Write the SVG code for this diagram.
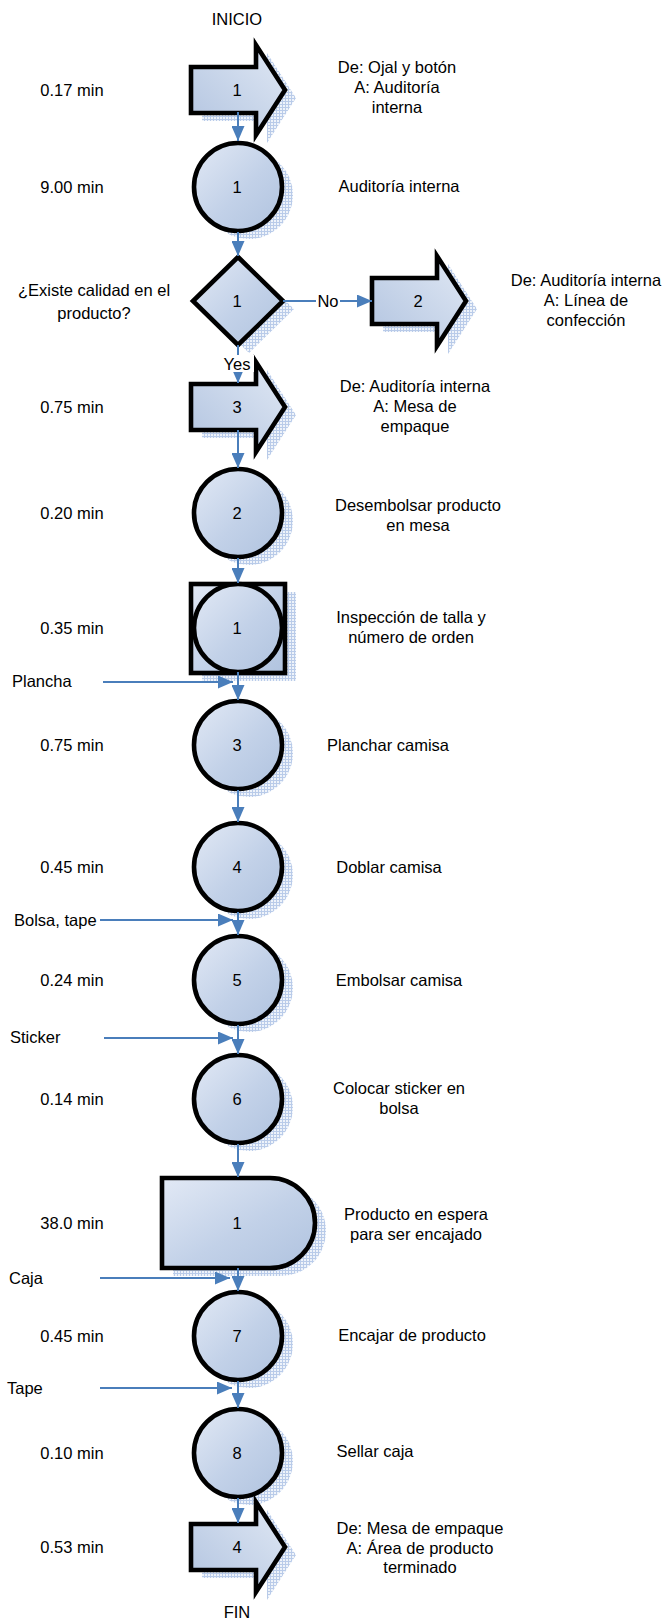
<svg xmlns="http://www.w3.org/2000/svg" xmlns:xlink="http://www.w3.org/1999/xlink" width="667" height="1618" viewBox="0 0 667 1618">
<style>
text{font-family:"Liberation Sans",Arial,sans-serif;font-size:16.5px;fill:#000}
.m{text-anchor:middle}
.s{stroke:#000;stroke-width:4.6;stroke-linejoin:miter}
.op{fill:url(#gc)}
.ar{fill:url(#ga)}
.sh{fill:url(#hatch)}
.c{stroke:#4a7ebb;stroke-width:2;fill:none;marker-end:url(#ah)}
</style>
<defs>
<linearGradient id="gc" x1="0" y1="0" x2="1" y2="1">
<stop offset="0" stop-color="#e2e9f5"/>
<stop offset="0.55" stop-color="#c2d1e8"/>
<stop offset="1" stop-color="#b0c3df"/>
</linearGradient>
<linearGradient id="ga" x1="0" y1="1" x2="1" y2="0">
<stop offset="0" stop-color="#b2c4e0"/>
<stop offset="1" stop-color="#e0e8f4"/>
</linearGradient>
<pattern id="hatch" width="3" height="3" patternUnits="userSpaceOnUse">
<rect width="3" height="3" fill="#eef3fa"/>
<rect width="3" height="1" fill="#b9cbe9"/>
<rect width="1" height="3" fill="#b9cbe9"/>
</pattern>
<marker id="ah" viewBox="0 0 15 13" refX="15" refY="6.5" markerWidth="15" markerHeight="13" markerUnits="userSpaceOnUse" orient="auto">
<path d="M0,0 L15,6.5 L0,13 Z" fill="#4a7ebb"/>
</marker>
<path id="arrowShape" d="M-47,-23 H18 V-45 L47,0 L18,45 V23 H-47 Z"/>
<circle id="circShape" r="44"/>
<path id="diamShape" d="M0,-44 L45,0 L0,44 L-45,0 Z"/>
<path id="delayShape" d="M-76,-45 H32 A45,45 0 0 1 32,45 H-76 Z"/>
<rect id="sqShape" x="-47" y="-44" width="94" height="89"/>
</defs>

<text id="inicio" class="m" x="237" y="25">INICIO</text>

<g id="n-trans1">
<use xlink:href="#arrowShape" class="sh" x="249" y="98"/>
<use xlink:href="#arrowShape" class="ar s" x="238" y="90"/>
<text class="m" x="237" y="96">1</text>
<text class="m" x="72" y="96">0.17 min</text>
<text class="m" x="397" y="73">De: Ojal y botón</text>
<text class="m" x="397" y="93">A: Auditoría</text>
<text class="m" x="397" y="113">interna</text>
</g>

<g id="n-op1">
<use xlink:href="#circShape" class="sh" x="249" y="195"/>
<use xlink:href="#circShape" class="op s" x="238" y="187"/>
<text class="m" x="237" y="193">1</text>
<text class="m" x="72" y="193">9.00 min</text>
<text class="m" x="399" y="192">Auditoría interna</text>
</g>

<g id="n-dec1">
<use xlink:href="#diamShape" class="sh" x="249" y="309"/>
<use xlink:href="#diamShape" class="op s" x="238" y="301"/>
<text class="m" x="237" y="307">1</text>
<text class="m" x="94" y="296">¿Existe calidad en el</text>
<text class="m" x="94" y="319">producto?</text>
</g>

<g id="n-trans2">
<use xlink:href="#arrowShape" class="sh" x="430" y="309"/>
<use xlink:href="#arrowShape" class="ar s" x="419" y="301"/>
<text class="m" x="418" y="307">2</text>
<text class="m" x="586" y="286">De: Auditoría interna</text>
<text class="m" x="586" y="306">A: Línea de</text>
<text class="m" x="586" y="326">confección</text>
</g>

<g id="n-trans3">
<use xlink:href="#arrowShape" class="sh" x="249" y="415"/>
<use xlink:href="#arrowShape" class="ar s" x="238" y="407"/>
<text class="m" x="237" y="413">3</text>
<text class="m" x="72" y="413">0.75 min</text>
<text class="m" x="415" y="392">De: Auditoría interna</text>
<text class="m" x="415" y="412">A: Mesa de</text>
<text class="m" x="415" y="432">empaque</text>
</g>

<g id="n-op2">
<use xlink:href="#circShape" class="sh" x="249" y="521"/>
<use xlink:href="#circShape" class="op s" x="238" y="513"/>
<text class="m" x="237" y="519">2</text>
<text class="m" x="72" y="519">0.20 min</text>
<text class="m" x="418" y="511">Desembolsar producto</text>
<text class="m" x="418" y="531">en mesa</text>
</g>

<g id="n-insp1">
<use xlink:href="#sqShape" class="sh" x="249" y="636"/>
<use xlink:href="#sqShape" class="op s" x="238" y="628"/>
<use xlink:href="#circShape" class="op s" x="238" y="628"/>
<text class="m" x="237" y="634">1</text>
<text class="m" x="72" y="634">0.35 min</text>
<text class="m" x="411" y="623">Inspección de talla y</text>
<text class="m" x="411" y="643">número de orden</text>
</g>

<g id="n-op3">
<use xlink:href="#circShape" class="sh" x="249" y="753"/>
<use xlink:href="#circShape" class="op s" x="238" y="745"/>
<text class="m" x="237" y="751">3</text>
<text class="m" x="72" y="751">0.75 min</text>
<text class="m" x="388" y="751">Planchar camisa</text>
</g>

<g id="n-op4">
<use xlink:href="#circShape" class="sh" x="249" y="875"/>
<use xlink:href="#circShape" class="op s" x="238" y="867"/>
<text class="m" x="237" y="873">4</text>
<text class="m" x="72" y="873">0.45 min</text>
<text class="m" x="389" y="873">Doblar camisa</text>
</g>

<g id="n-op5">
<use xlink:href="#circShape" class="sh" x="249" y="988"/>
<use xlink:href="#circShape" class="op s" x="238" y="980"/>
<text class="m" x="237" y="986">5</text>
<text class="m" x="72" y="986">0.24 min</text>
<text class="m" x="399" y="986">Embolsar camisa</text>
</g>

<g id="n-op6">
<use xlink:href="#circShape" class="sh" x="249" y="1107"/>
<use xlink:href="#circShape" class="op s" x="238" y="1099"/>
<text class="m" x="237" y="1105">6</text>
<text class="m" x="72" y="1105">0.14 min</text>
<text class="m" x="399" y="1094">Colocar sticker en</text>
<text class="m" x="399" y="1114">bolsa</text>
</g>

<g id="n-delay1">
<use xlink:href="#delayShape" class="sh" x="249" y="1231"/>
<use xlink:href="#delayShape" class="op s" x="238" y="1223"/>
<text class="m" x="237" y="1229">1</text>
<text class="m" x="72" y="1229">38.0 min</text>
<text class="m" x="416" y="1220">Producto en espera</text>
<text class="m" x="416" y="1240">para ser encajado</text>
</g>

<g id="n-op7">
<use xlink:href="#circShape" class="sh" x="249" y="1344"/>
<use xlink:href="#circShape" class="op s" x="238" y="1336"/>
<text class="m" x="237" y="1342">7</text>
<text class="m" x="72" y="1342">0.45 min</text>
<text class="m" x="412" y="1341">Encajar de producto</text>
</g>

<g id="n-op8">
<use xlink:href="#circShape" class="sh" x="249" y="1461"/>
<use xlink:href="#circShape" class="op s" x="238" y="1453"/>
<text class="m" x="237" y="1459">8</text>
<text class="m" x="72" y="1459">0.10 min</text>
<text class="m" x="375" y="1457">Sellar caja</text>
</g>

<g id="n-trans4">
<use xlink:href="#arrowShape" class="sh" x="249" y="1555"/>
<use xlink:href="#arrowShape" class="ar s" x="238" y="1547"/>
<text class="m" x="237" y="1553">4</text>
<text class="m" x="72" y="1553">0.53 min</text>
<text class="m" x="420" y="1534">De: Mesa de empaque</text>
<text class="m" x="420" y="1554">A: Área de producto</text>
<text class="m" x="420" y="1573">terminado</text>
</g>

<text id="fin" class="m" x="237" y="1618">FIN</text>

<g id="inputs">
<text x="12" y="687">Plancha</text>
<text x="14" y="926">Bolsa, tape</text>
<text x="10" y="1043">Sticker</text>
<text x="9" y="1284">Caja</text>
<text x="7" y="1394">Tape</text>
</g>

<g id="connectors">
<line class="c" x1="238" y1="112" x2="238" y2="141"/>
<line class="c" x1="238" y1="232" x2="238" y2="256"/>
<line class="c" x1="283" y1="301" x2="372" y2="301"/>
<rect x="316" y="292" width="24" height="18" fill="#fff"/>
<text class="m" x="328" y="307">No</text>
<line class="c" x1="238" y1="345" x2="238" y2="383"/>
<rect x="221" y="355" width="33" height="17" fill="#fff"/>
<text class="m" x="237" y="370">Yes</text>
<line class="c" x1="238" y1="430" x2="238" y2="468"/>
<line class="c" x1="238" y1="558" x2="238" y2="583"/>
<line class="c" x1="238" y1="672" x2="238" y2="700"/>
<line class="c" x1="103" y1="682" x2="233" y2="682"/>
<line class="c" x1="238" y1="790" x2="238" y2="822"/>
<line class="c" x1="238" y1="912" x2="238" y2="935"/>
<line class="c" x1="100" y1="920" x2="233" y2="920"/>
<line class="c" x1="238" y1="1025" x2="238" y2="1054"/>
<line class="c" x1="104" y1="1038" x2="233" y2="1038"/>
<line class="c" x1="238" y1="1144" x2="238" y2="1177"/>
<line class="c" x1="238" y1="1268" x2="238" y2="1291"/>
<line class="c" x1="100" y1="1278" x2="230" y2="1278"/>
<line class="c" x1="238" y1="1381" x2="238" y2="1408"/>
<line class="c" x1="100" y1="1388" x2="232" y2="1388"/>
<line class="c" x1="238" y1="1498" x2="238" y2="1523"/>
</g>
</svg>
